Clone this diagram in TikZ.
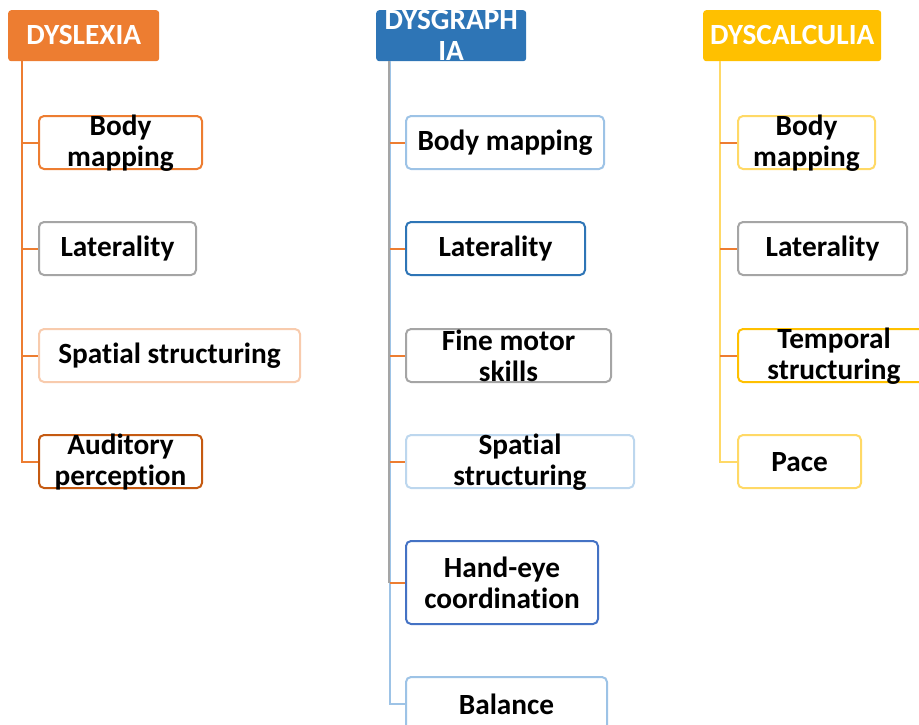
\documentclass[tikz,border=0pt]{standalone}
\usepackage{fontspec}
\setmainfont{Carlito}[RawFeature=-liga]
\definecolor{lexorange}{HTML}{ED7D31}
\definecolor{lexlight}{HTML}{F8CBAD}
\definecolor{lexdark}{HTML}{C55A11}
\definecolor{grablue}{HTML}{2E75B6}
\definecolor{gralight}{HTML}{9DC3E6}
\definecolor{grapale}{HTML}{BDD7EE}
\definecolor{gramid}{HTML}{4472C4}
\definecolor{calgold}{HTML}{FFC000}
\definecolor{callight}{HTML}{FFD966}
\definecolor{midgrey}{HTML}{A5A5A5}
\begin{document}
\begin{tikzpicture}[x=1pt,y=-1pt,
    every node/.style={font=\fontsize{29.3}{31}\selectfont\bfseries},
    head/.style={rectangle,fill=#1,rounded corners=3pt,anchor=north west,inner sep=0pt,minimum height=51pt},
    box/.style={rectangle,draw=#1,fill=white,line width=2pt,rounded corners=5pt,anchor=north west,inner sep=0pt,minimum height=53pt},
    txt/.style={align=center,inner sep=0pt,yshift=-0.5pt},
    stem/.style={line width=2pt,draw=#1},
    tick/.style={line width=2pt,draw=lexorange}]
\useasboundingbox (0,0) rectangle (919,724);
% dyslexia
\node[head=lexorange,minimum width=151pt] (lex) at (8,10) {};
\node[txt,text=white,yshift=1pt] (lext) at (lex) {DYSLEXIA};
\node[box=lexorange,minimum width=163pt] (lexA) at (38,115) {};
\node[box=midgrey,minimum width=157pt] (lexB) at (38,221) {};
\node[box=lexlight,minimum width=261pt] (lexC) at (38,328) {};
\node[box=lexdark,minimum width=163pt] (lexD) at (38,434) {};
\node[txt] (lexAt) at (lexA) {Body\\mapping};
\node[txt] (lexBt) at (lexB) {Laterality};
\node[txt] (lexCt) at (lexC) {Spatial structuring};
\node[txt] (lexDt) at (lexD) {Auditory\\perception};
\coordinate (lexS) at (22,61);
\draw[stem=lexorange] (lexS) |- (lexD.west);
\foreach \b in {lexA,lexB,lexC}
  \draw[tick] (lexS |- \b.west) -- (\b.west);
% dysgraphia
\node[head=grablue,minimum width=150pt] (gra) at (376,10) {};
\node[txt,text=white,yshift=1pt] (grat) at (gra) {DYSGRAPH\\IA};
\node[box=gralight,minimum width=198pt] (graA) at (405,115) {};
\node[box=grablue,minimum width=179pt] (graB) at (405,221) {};
\node[box=midgrey,minimum width=205pt] (graC) at (405,328) {};
\node[box=grapale,minimum width=228pt] (graD) at (405,434) {};
\node[box=gramid,minimum width=192pt,minimum height=83pt] (graE) at (405,540) {};
\node[box=gralight,minimum width=201pt] (graF) at (405,676) {};
\node[txt] (graAt) at (graA) {Body mapping};
\node[txt] (graBt) at (graB) {Laterality};
\node[txt] (graCt) at (graC) {Fine motor\\skills};
\node[txt] (graDt) at (graD) {Spatial\\structuring};
\node[txt] (graEt) at (graE) {Hand-eye\\coordination};
\node[txt] (graFt) at (graF) {Balance};
\coordinate (graS) at (390,61);
\draw[stem=gralight] (graS) |- (graF.west);
\draw[midgrey,line width=1.2pt] ([xshift=-1pt]graS) -- ([xshift=-1pt]graS |- graE.west);
\foreach \b in {graA,graB,graC,graD,graE}
  \draw[tick] (graS |- \b.west) -- (\b.west);
% dyscalculia
\node[head=calgold,minimum width=178pt] (cal) at (703,10) {};
\node[txt,text=white,yshift=1pt] (calt) at (cal) {DYSCALCULIA};
\node[box=callight,minimum width=137pt] (calA) at (737,115) {};
\node[box=midgrey,minimum width=169pt] (calB) at (737,221) {};
\node[box=calgold,minimum width=192pt] (calC) at (737,328) {};
\node[box=callight,minimum width=123pt] (calD) at (737,434) {};
\node[txt] (calAt) at (calA) {Body\\mapping};
\node[txt] (calBt) at (calB) {Laterality};
\node[txt] (calCt) at (calC) {Temporal\\structuring};
\node[txt] (calDt) at (calD) {Pace};
\coordinate (calS) at (720,61);
\draw[stem=callight] (calS) |- (calD.west);
\foreach \b in {calA,calB,calC}
  \draw[tick] (calS |- \b.west) -- (\b.west);
\end{tikzpicture}
\end{document}
